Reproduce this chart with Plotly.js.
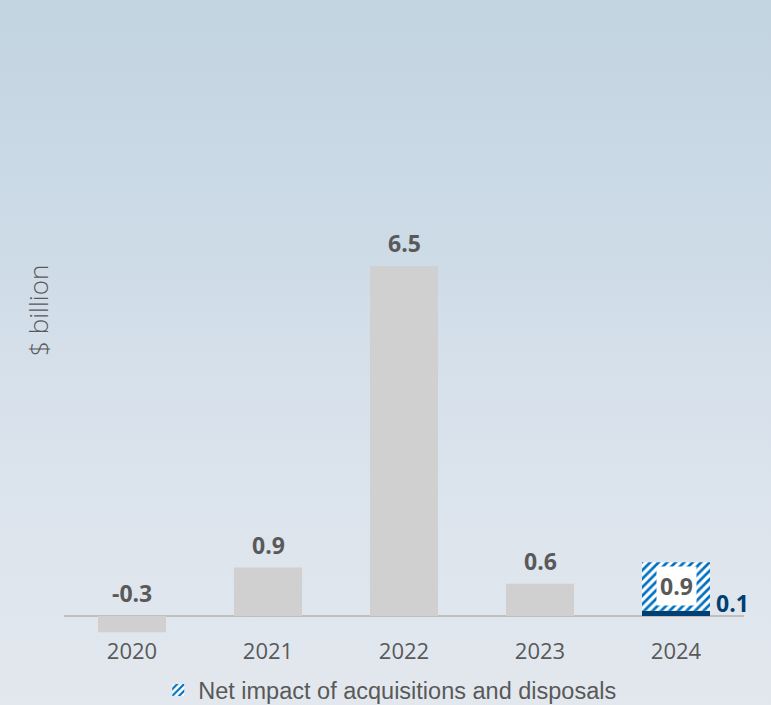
<!DOCTYPE html>
<html>
<head>
<meta charset="utf-8">
<script src="https://cdn.plot.ly/plotly-3.0.1.min.js"></script>
<style>
html,body{margin:0;padding:0;width:771px;height:705px;overflow:hidden;}
body{background:linear-gradient(180deg,#c3d5e1 0%,#cbdae6 30%,#d9e2ec 60%,#e3e8ee 100%);}
#chart{width:771px;height:705px;}
</style>
</head>
<body>
<div id="chart"></div>
<script>
const years = ['2020','2021','2022','2023','2024'];
const baseValues = [-0.3, 0.9, 6.5, 0.6, null];
const organic2024 = [null, null, null, null, 0.1];
const acquisitions2024 = [null, null, null, null, 0.9];
const baseLabels = ['-0.3','0.9','6.5','0.6',null];
const legendName = 'Net impact of acquisitions and disposals';
const yTitle = '$ billion';

const grey = '#d0d0d0';
const navy = '#003f72';
const blue = '#0070c0';
const txt = '#595959';
const lblFont = {family:'Open Sans, sans-serif', size:23, color:txt};

const traces = [
  {type:'bar', x:years, y:baseValues, marker:{color:grey}, showlegend:false, hoverinfo:'skip'},
  {type:'bar', x:years, y:organic2024, marker:{color:navy}, showlegend:false, hoverinfo:'skip'},
  {type:'bar', x:years, y:acquisitions2024, name:legendName, showlegend:true, hoverinfo:'skip',
   marker:{color:'white', pattern:{shape:'/', fgcolor:blue, bgcolor:'white', size:6, solidity:0.45}}}
];

const annotations = [];
years.forEach((yr,i)=>{
  if(baseValues[i]!==null){
    annotations.push({x:i, y:Math.max(baseValues[i],0), yanchor:'bottom', yshift:5, showarrow:false,
      text:'<b>'+baseLabels[i]+'</b>', font:lblFont});
  }
  if(acquisitions2024[i]!==null){
    annotations.push({x:i, y:organic2024[i]+acquisitions2024[i]/2, yanchor:'middle', showarrow:false,
      text:'<b>'+acquisitions2024[i].toFixed(1)+'</b>', bgcolor:'white', borderpad:3,
      font:lblFont});
  }
  if(organic2024[i]!==null){
    annotations.push({x:i, y:organic2024[i], xanchor:'left', xshift:38, yanchor:'middle', yshift:8, showarrow:false,
      text:'<b>'+organic2024[i].toFixed(1)+'</b>', font:{family:'Open Sans, sans-serif', size:23, color:navy}});
  }
});
annotations.push({xref:'paper', yref:'paper', x:-0.038, xanchor:'center', y:0.528, yanchor:'middle', textangle:-90, showarrow:false,
  text:yTitle, font:{family:'Open Sans, sans-serif', size:26, weight:300, color:txt}});

const layout = {
  width:771, height:705,
  margin:{l:64, r:27, t:20, b:69, autoexpand:false},
  paper_bgcolor:'rgba(0,0,0,0)', plot_bgcolor:'rgba(0,0,0,0)',
  barmode:'relative', bargap:0.5,
  showlegend:true,
  legend:{orientation:'h', x:0.479, xanchor:'center', yref:'container', y:0.021, yanchor:'middle',
    font:{family:'Liberation Sans, Arial, sans-serif', size:23.5, color:txt}, bgcolor:'rgba(0,0,0,0)'},
  xaxis:{type:'category', range:[-0.5,4.5], showgrid:false, showline:false, zeroline:false, ticks:'',
    tickfont:{family:'Open Sans, sans-serif', size:22, color:txt}},
  yaxis:{range:[-0.37, 11.07], showgrid:false, showticklabels:false, ticks:'',
    zeroline:true, zerolinecolor:'#bfbfbf', zerolinewidth:2},
  annotations:annotations
};
Plotly.newPlot('chart', traces, layout, {displayModeBar:false, staticPlot:true});
</script>
</body>
</html>
